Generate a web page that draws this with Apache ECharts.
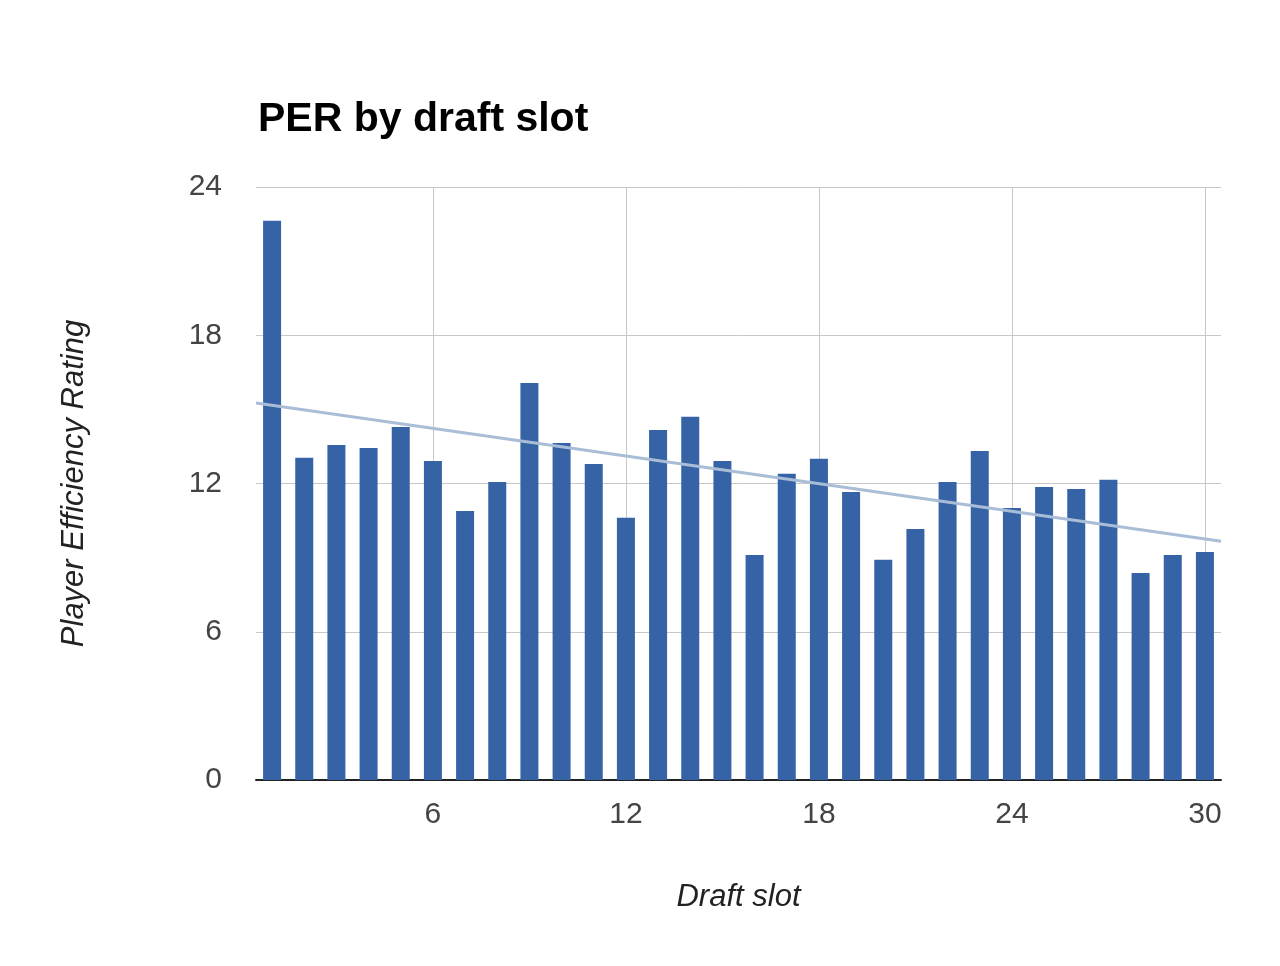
<!DOCTYPE html>
<html>
<head>
<meta charset="utf-8">
<script src="https://cdn.jsdelivr.net/npm/echarts@6/dist/echarts.min.js"></script>
<style>
html,body{margin:0;padding:0;background:#fff;}
#chart{width:1280px;height:966px;}
</style>
</head>
<body>
<div id="chart"></div>
<script>
const draftSlots = [1,2,3,4,5,6,7,8,9,10,11,12,13,14,15,16,17,18,19,20,21,22,23,24,25,26,27,28,29,30];
const perValues = [22.63,13.04,13.56,13.44,14.29,12.91,10.89,12.06,16.07,13.64,12.79,10.61,14.17,14.70,12.91,9.11,12.39,13.00,11.66,8.91,10.16,12.06,13.32,11.01,11.86,11.78,12.15,8.38,9.11,9.23];
const trendX = [0.5, 30.5];
const trendY = [15.26, 9.66];
const xTickLabels = [6,12,18,24,30];
const yTickLabels = [0,6,12,18,24];

const barData = draftSlots.map((s,i)=>[s, perValues[i]]);
const trendData = trendX.map((x,i)=>[x, trendY[i]]);

const FONT = 'Liberation Sans, Arial, sans-serif';
const chart = echarts.init(document.getElementById('chart'));
chart.setOption({
  animation:false,
  backgroundColor:'#fff',
  title:{
    text:'PER by draft slot',
    left:253, top:94,
    textStyle:{fontFamily:FONT,fontSize:41,fontWeight:'bold',color:'#000'}
  },
  grid:{left:256,right:59,top:187,bottom:186,containLabel:false},
  xAxis:{
    type:'value', min:0.5, max:30.5,
    name:'Draft slot', nameLocation:'middle', nameGap:102,
    nameTextStyle:{fontFamily:FONT,fontSize:31,fontStyle:'italic',color:'#222'},
    axisLine:{show:true,onZero:false,lineStyle:{color:'#222',width:2}},
    axisTick:{show:false,customValues:xTickLabels},
    axisLabel:{customValues:xTickLabels,margin:20,fontFamily:FONT,fontSize:30,color:'#444'},
    splitLine:{show:true,lineStyle:{color:'#c8c8c8',width:1}}
  },
  yAxis:{
    type:'value', min:0, max:24, interval:6,
    name:'Player Efficiency Rating', nameLocation:'middle', nameGap:166,
    nameTextStyle:{fontFamily:FONT,fontSize:31,fontStyle:'italic',color:'#222'},
    axisLine:{show:false}, axisTick:{show:false},
    axisLabel:{margin:34,fontFamily:FONT,fontSize:30,color:'#444'},
    splitLine:{show:true,lineStyle:{color:'#c8c8c8',width:1}}
  },
  series:[
    {type:'bar', data:barData, barWidth:18, itemStyle:{color:'#3563a6'}, z:2},
    {type:'line', data:trendData, symbol:'none', lineStyle:{color:'#a9bdd6',width:3}, z:3, silent:true}
  ]
});
</script>
</body>
</html>
